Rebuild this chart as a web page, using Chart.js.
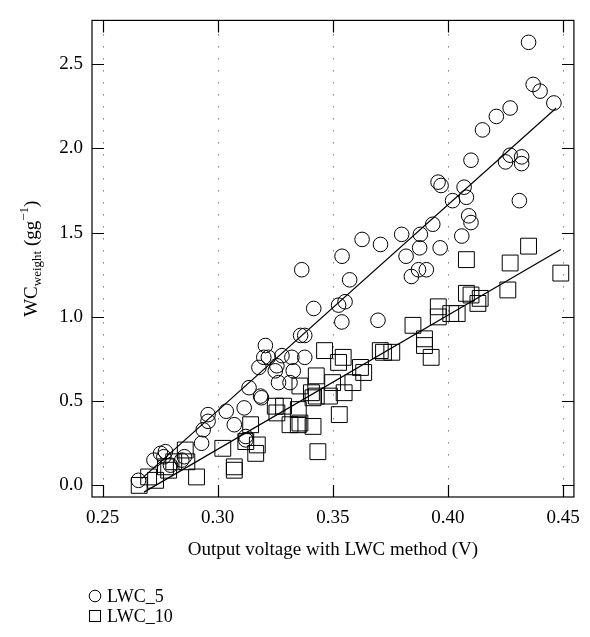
<!DOCTYPE html>
<html><head><meta charset="utf-8">
<script src="https://cdn.jsdelivr.net/npm/chart.js@4.4.1/dist/chart.umd.min.js"></script>
<style>html,body{margin:0;padding:0;background:#fff;}canvas{display:block;}</style>
</head><body>
<canvas id="c" width="590" height="637"></canvas>
<script>
// ---- data ----
const xTicks = [0.25, 0.30, 0.35, 0.40, 0.45];
const yTicks = [0.0, 0.5, 1.0, 1.5, 2.0, 2.5];
const seriesNames = ['LWC_5', 'LWC_10'];
const xTitle = 'Output voltage with LWC method (V)';

const lwc5X = [0.2656,0.2723,0.2752,0.2773,0.2766,0.2795,0.2844,0.2855,0.2930,0.2937,0.2958,0.2958,0.3037,0.3072,0.3115,0.3122,0.3122,0.3136,0.3179,0.3186,0.3190,0.3207,0.3200,0.3220,0.3250,0.3257,0.3264,0.3279,0.3314,0.3322,0.3328,0.3378,0.3360,0.3378,0.3365,0.3417,0.3525,0.3553,0.3539,0.3540,0.3573,0.3627,0.3696,0.3707,0.3799,0.3818,0.3841,0.3872,0.3877,0.3880,0.3906,0.3934,0.3957,0.3970,0.3966,0.4020,0.4060,0.4070,0.4080,0.4090,0.4100,0.4100,0.4150,0.4210,0.4270,0.4250,0.4270,0.4320,0.4320,0.4310,0.4350,0.4370,0.4400,0.4460];
const lwc5Y = [0.03,0.15,0.19,0.20,0.17,0.12,0.15,0.17,0.25,0.33,0.38,0.42,0.44,0.36,0.46,0.29,0.27,0.58,0.70,0.53,0.52,0.83,0.76,0.76,0.68,0.71,0.61,0.77,0.61,0.76,0.68,0.76,0.89,0.89,1.28,1.05,1.07,1.09,0.97,1.36,1.22,1.46,0.98,1.43,1.49,1.36,1.24,1.28,1.41,1.49,1.28,1.55,1.80,1.78,1.41,1.69,1.48,1.77,1.71,1.60,1.56,1.93,2.11,2.19,2.24,1.92,1.96,1.95,1.91,1.69,2.63,2.38,2.34,2.27];

const lwc10X = [0.2659,0.2700,0.2730,0.2773,0.2787,0.2809,0.2859,0.2866,0.2908,0.3022,0.3072,0.3072,0.3122,0.3143,0.3165,0.3172,0.3250,0.3257,0.3286,0.3314,0.3350,0.3350,0.3357,0.3357,0.3407,0.3414,0.3414,0.3428,0.3428,0.3435,0.3464,0.3485,0.3499,0.3525,0.3528,0.3545,0.3549,0.3587,0.3620,0.3634,0.3706,0.3720,0.3756,0.3848,0.3898,0.3898,0.3927,0.3958,0.3958,0.4012,0.4040,0.4080,0.4080,0.4100,0.4130,0.4140,0.4260,0.4270,0.4350,0.4490];
const lwc10Y = [0.00,0.05,0.03,0.11,0.09,0.14,0.21,0.14,0.05,0.22,0.11,0.09,0.26,0.36,0.19,0.24,0.47,0.43,0.47,0.36,0.45,0.36,0.59,0.37,0.55,0.35,0.52,0.53,0.65,0.20,0.80,0.53,0.61,0.73,0.42,0.76,0.55,0.61,0.70,0.67,0.80,0.79,0.79,0.95,0.87,0.83,0.76,1.06,1.00,1.02,1.02,1.34,1.14,1.13,1.08,1.11,1.16,1.32,1.42,1.26];

// fitted lines (end points)
const fit5X = [0.267, 0.447];
const fit5Y = [0.04, 2.24];
const fit10X = [0.268, 0.449];
const fit10Y = [-0.04, 1.40];

// ---- build ----
const FONT = '"Liberation Serif","Times New Roman",serif';
const pts = (xs, ys) => xs.map((v, i) => ({x: v, y: ys[i]}));

const framePlugin = {
  id: 'frame',
  beforeDatasetsDraw(chart) {
    const {ctx, chartArea: a, scales: {x}} = chart;
    ctx.save();
    ctx.strokeStyle = '#444';
    ctx.lineWidth = 1;
    ctx.setLineDash([1, 11]);
    xTicks.forEach(v => {
      const px = Math.round(x.getPixelForValue(v)) + 0.5;
      ctx.beginPath();
      ctx.moveTo(px, a.top + 14);
      ctx.lineTo(px, a.bottom - 12);
      ctx.stroke();
    });
    ctx.restore();
  },
  afterDatasetsDraw(chart) {
    const {ctx, chartArea: a, scales: {x, y}} = chart;
    ctx.save();
    ctx.strokeStyle = '#000';
    ctx.lineWidth = 1.2;
    ctx.setLineDash([]);
    ctx.strokeRect(a.left, a.top, a.right - a.left, a.bottom - a.top);
    const L = 12;
    ctx.beginPath();
    xTicks.forEach(v => {
      const px = Math.round(x.getPixelForValue(v)) + 0.5;
      ctx.moveTo(px, a.bottom); ctx.lineTo(px, a.bottom - L);
      ctx.moveTo(px, a.top); ctx.lineTo(px, a.top + L);
    });
    yTicks.forEach(v => {
      const py = Math.round(y.getPixelForValue(v)) + 0.5;
      ctx.moveTo(a.left, py); ctx.lineTo(a.left + L, py);
      ctx.moveTo(a.right, py); ctx.lineTo(a.right - L, py);
    });
    ctx.stroke();

    // y-axis title with subscript / superscript
    const big = '19px ' + FONT, small = '13px ' + FONT;
    const parts = [
      {t: 'WC', f: big, dy: 0},
      {t: 'weight', f: small, dy: 4},
      {t: ' (gg', f: big, dy: 0},
      {t: '\u22121', f: small, dy: -9},
      {t: ')', f: big, dy: 0}
    ];
    let total = 0;
    parts.forEach(p => { ctx.font = p.f; p.w = ctx.measureText(p.t).width; total += p.w; });
    ctx.translate(30, (a.top + a.bottom) / 2);
    ctx.rotate(-Math.PI / 2);
    ctx.fillStyle = '#000';
    ctx.textBaseline = 'alphabetic';
    let cx = -total / 2;
    parts.forEach(p => { ctx.font = p.f; ctx.fillText(p.t, cx, 7 + p.dy); cx += p.w; });
    ctx.restore();

    // legend
    ctx.save();
    ctx.strokeStyle = '#000';
    ctx.lineWidth = 1;
    ctx.fillStyle = '#000';
    ctx.font = '18px ' + FONT;
    ctx.textBaseline = 'middle';
    ctx.beginPath();
    ctx.arc(95, 596, 5.8, 0, Math.PI * 2);
    ctx.stroke();
    ctx.fillText(seriesNames[0], 107, 597);
    ctx.strokeRect(89.5, 610.5, 11, 11);
    ctx.fillText(seriesNames[1], 107, 617);
    ctx.restore();
  }
};

new Chart(document.getElementById('c'), {
  type: 'scatter',
  data: {
    datasets: [
      {label: seriesNames[0], data: pts(lwc5X, lwc5Y), pointStyle: 'circle', pointRadius: 7.3,
       borderColor: '#000', backgroundColor: 'rgba(0,0,0,0)', borderWidth: 1},
      {label: seriesNames[1], data: pts(lwc10X, lwc10Y), pointStyle: 'rect', pointRadius: 11.2,
       borderColor: '#000', backgroundColor: 'rgba(0,0,0,0)', borderWidth: 1},
      {type: 'line', label: 'fit5', data: pts(fit5X, fit5Y), showLine: true, pointRadius: 0,
       borderColor: '#000', borderWidth: 1.2, fill: false},
      {type: 'line', label: 'fit10', data: pts(fit10X, fit10Y), showLine: true, pointRadius: 0,
       borderColor: '#000', borderWidth: 1.2, fill: false}
    ]
  },
  options: {
    responsive: false,
    animation: false,
    devicePixelRatio: 1,
    layout: {padding: {left: 0, right: 8, top: 7, bottom: 0}},
    plugins: {legend: {display: false}, tooltip: {enabled: false}},
    scales: {
      x: {
        type: 'linear', min: 0.2454, max: 0.4547,
        afterBuildTicks: s => { s.ticks = xTicks.map(v => ({value: v})); },
        afterFit: s => { s.height = 140; },
        grid: {display: false, drawTicks: false},
        border: {display: false},
        ticks: {padding: 10, color: '#000', font: {family: FONT, size: 19},
                callback: v => Number(v).toFixed(2)},
        title: {display: true, text: xTitle, color: '#000', font: {family: FONT, size: 19},
                padding: {top: 0, bottom: 76}}
      },
      y: {
        type: 'linear', min: -0.069, max: 2.76,
        afterBuildTicks: s => { s.ticks = yTicks.map(v => ({value: v})); },
        afterFit: s => { s.width = 92; },
        grid: {display: false, drawTicks: false},
        border: {display: false},
        ticks: {padding: 9, color: '#000', font: {family: FONT, size: 19},
                callback: v => Number(v).toFixed(1)}
      }
    }
  },
  plugins: [framePlugin]
});
</script>
</body></html>
